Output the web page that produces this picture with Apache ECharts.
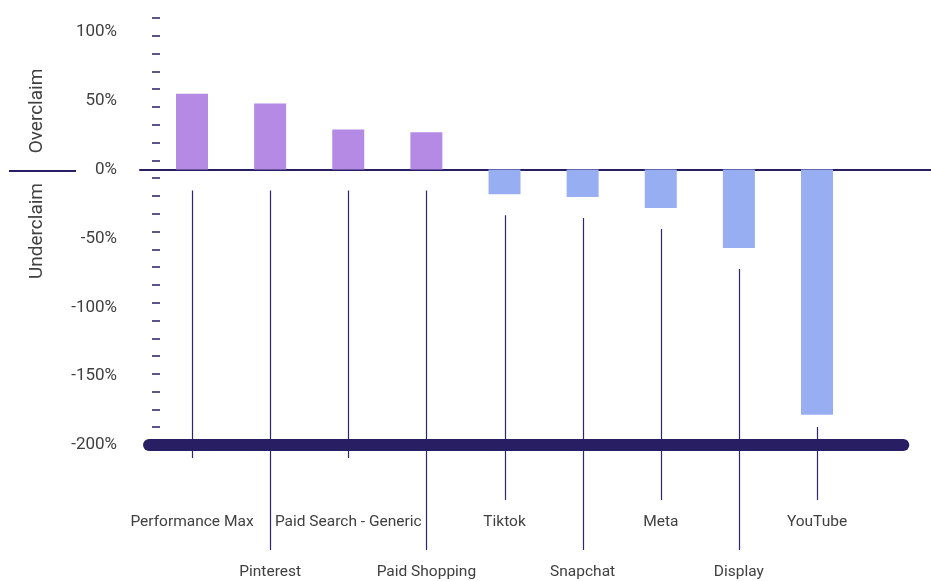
<!DOCTYPE html>
<html>
<head>
<meta charset="utf-8">
<script src="https://cdn.jsdelivr.net/npm/echarts@6/dist/echarts.min.js"></script>
<style>
  html, body { margin: 0; padding: 0; background: #fff; }
  #chart { width: 931px; height: 581px; }
</style>
</head>
<body>
<div id="chart"></div>
<script>
const channels = ['Performance Max', 'Pinterest', 'Paid Search - Generic', 'Paid Shopping',
  'Tiktok', 'Snapchat', 'Meta', 'Display', 'YouTube'];
const claimGap = [55, 48, 29, 27, -18, -20, -28, -57, -178];
const yTicks = [-200, -150, -100, -50, 0, 50, 100];

const navy = '#271e64';
const textColor = '#404040';
const font = 'Roboto';

// where each leader line stops (px), labels sit on two rows
const leaderStop = [458, 550, 458, 550, 500, 550, 500, 550, 500];
const labelRowY = [522.5, 572.5];

const chart = echarts.init(document.getElementById('chart'), null, { renderer: 'canvas' });

const points = claimGap.map((v, i) => [i, v]);

const option = {
  animation: false,
  grid: { left: 140, right: 0, top: 18, bottom: 136 },
  xAxis: {
    type: 'value',
    min: -0.6656,
    max: 9.459,
    axisLine: { onZero: true, onZeroAxisIndex: 0, lineStyle: { color: navy, width: 2 } },
    axisTick: { show: false },
    axisLabel: { show: false },
    splitLine: { show: false }
  },
  yAxis: [
    {
      type: 'value',
      min: yTicks[0],
      max: 110,
      interval: 50,
      axisLine: { show: false },
      axisTick: { show: false },
      splitLine: { show: false },
      axisLabel: {
        showMaxLabel: false,
        margin: 23,
        color: textColor,
        fontFamily: font,
        fontSize: 17,
        padding: [3, 0, 0, 0],
        formatter: (v) => (yTicks.includes(v) ? v + '%' : '')
      }
    },
    {
      // decorative dash scale along the value axis
      type: 'value',
      position: 'left',
      offset: -20,
      min: 0,
      max: 24,
      interval: 1,
      axisLine: { show: false },
      axisLabel: { show: false },
      splitLine: { show: false },
      axisTick: { show: true, length: 8, lineStyle: { color: navy, width: 1.5 } }
    }
  ],
  series: [
    {
      type: 'bar',
      data: points,
      barWidth: 32,
      itemStyle: {
        color: (p) => (p.value[1] >= 0 ? '#b48ae4' : '#98aef2')
      },
      markLine: {
        silent: true,
        symbol: ['none', 'none'],
        label: { show: false },
        lineStyle: { color: navy, width: 12, type: 'solid', cap: 'round' },
        data: [[{ coord: [-0.55, yTicks[0]] }, { coord: [9.105, yTicks[0]] }]]
      }
    },
    {
      type: 'custom',
      data: points,
      clip: false,
      silent: true,
      renderItem: (params, api) => {
        const i = api.value(0);
        const v = api.value(1);
        const base = api.coord([i, 0]);
        const end = api.coord([i, Math.min(v, 0)]);
        const floorY = api.coord([i, yTicks[0]])[1];
        const x = Math.round(base[0]) + 0.5;
        const y0 = Math.min(end[1] + 21, floorY - 18);
        const y1 = leaderStop[params.dataIndex];
        const ty = labelRowY[params.dataIndex % 2];
        return {
          type: 'group',
          children: [
            {
              type: 'line',
              shape: { x1: x, y1: y0, x2: x, y2: y1 },
              style: { stroke: '#2f2670', lineWidth: 1.2 }
            },
            {
              type: 'text',
              style: {
                text: channels[params.dataIndex],
                x: base[0],
                y: ty,
                align: 'center',
                verticalAlign: 'middle',
                fill: textColor,
                font: '15.5px ' + font
              }
            }
          ]
        };
      }
    }
  ],
  graphic: [
    {
      type: 'text',
      x: 37,
      y: 111,
      rotation: Math.PI / 2,
      style: {
        text: 'Overclaim',
        align: 'center',
        verticalAlign: 'middle',
        fill: textColor,
        font: '19px ' + font
      }
    },
    {
      type: 'text',
      x: 37,
      y: 231,
      rotation: Math.PI / 2,
      style: {
        text: 'Underclaim',
        align: 'center',
        verticalAlign: 'middle',
        fill: textColor,
        font: '19px ' + font
      }
    },
    {
      type: 'line',
      shape: { x1: 9, y1: 171, x2: 76, y2: 171 },
      style: { stroke: navy, lineWidth: 2 }
    }
  ]
};

chart.setOption(option);
</script>
</body>
</html>
